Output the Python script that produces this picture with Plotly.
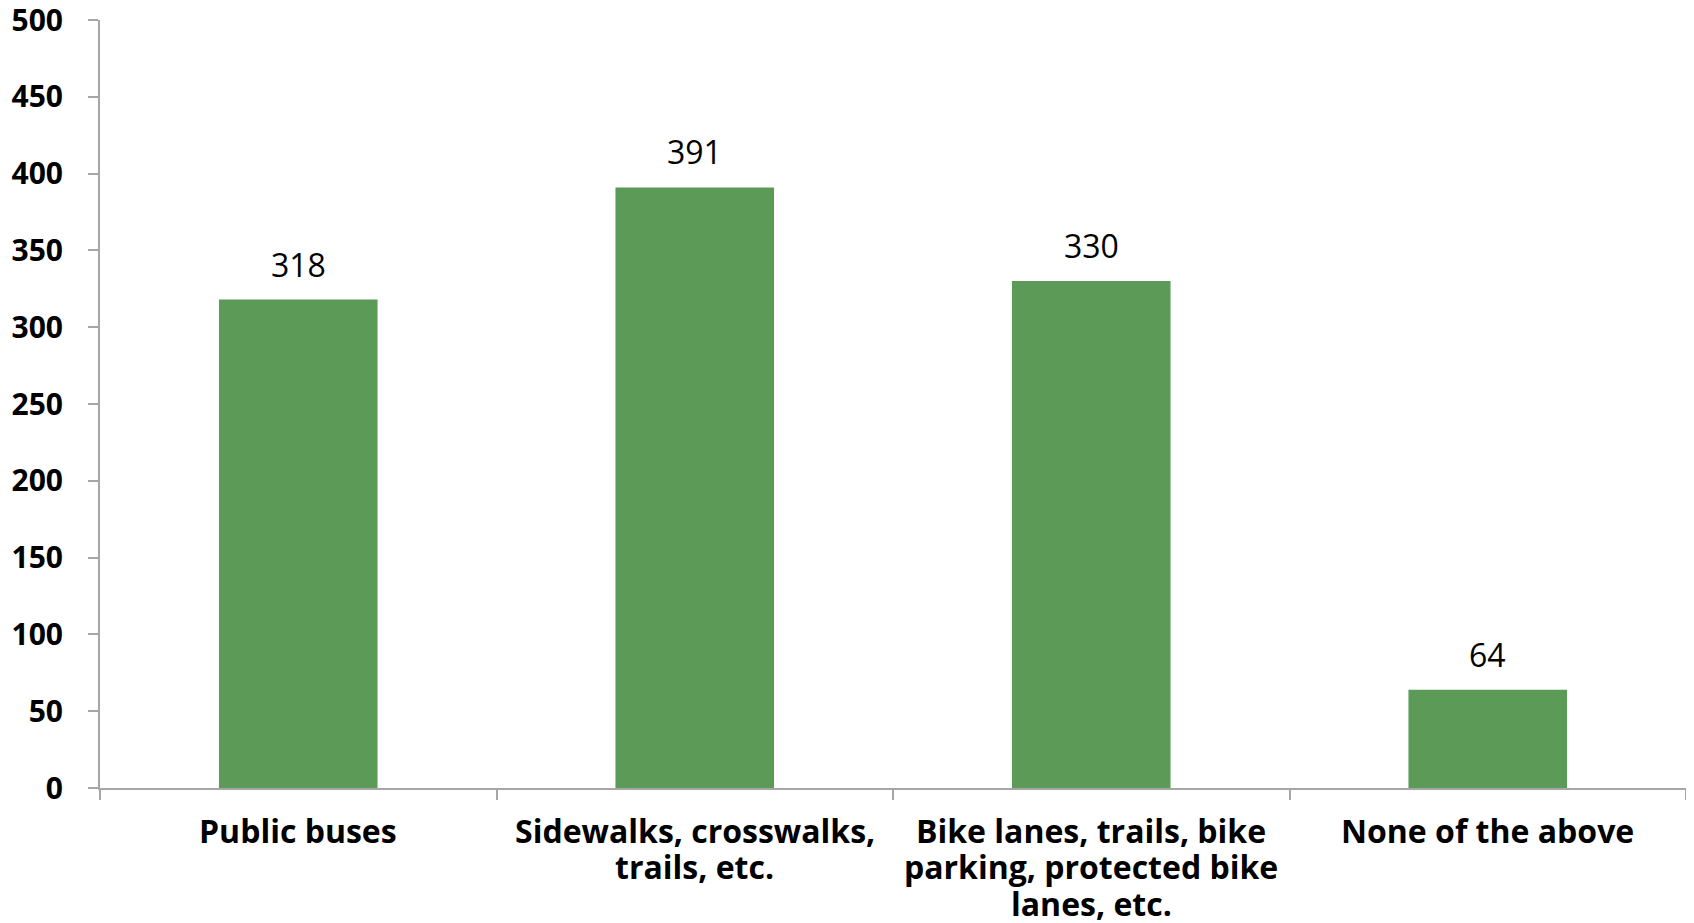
import plotly.graph_objects as go

categories = ["Public buses", "Sidewalks, crosswalks,<br>trails, etc.",
              "Bike lanes, trails, bike<br>parking, protected bike<br>lanes, etc.",
              "None of the above"]
values = [318, 391, 330, 64]
y_ticks = list(range(0, 501, 50))

bar_color = "#5C9A58"
axis_color = "#A6A6A6"
font_family = "Open Sans"

fig = go.Figure(go.Bar(x=categories, y=values, marker=dict(color=bar_color, line=dict(width=0)),
                       width=0.4, hoverinfo="y"))

# value labels above bars
for c, v in zip(categories, values):
    fig.add_annotation(x=c, y=v, text=str(v), showarrow=False, yanchor="bottom",
                       yshift=12, font=dict(family=font_family, size=32, color="black"))

# category labels, one annotation per line (tighter line spacing as in reference)
line_step = 36.6
for c in categories:
    for i, line in enumerate(c.split("<br>")):
        fig.add_annotation(x=c, xref="x", y=0, yref="paper", text="<b>" + line + "</b>",
                           showarrow=False, yanchor="middle", yshift=-42 - i * line_step,
                           borderpad=0,
                           font=dict(family=font_family, size=32, color="black"))

fig.update_layout(
    width=1694, height=923,
    margin=dict(l=92, r=16, t=12, b=143, autoexpand=False),
    plot_bgcolor="white", paper_bgcolor="white",
    showlegend=False,
    font=dict(family=font_family, color="black"),
)
fig.update_xaxes(
    type="category", showline=True, linecolor=axis_color, linewidth=2,
    ticks="outside", tickson="boundaries", ticklen=10, tickwidth=2, tickcolor=axis_color,
    showticklabels=False, automargin=False,
    showgrid=False, range=[-0.5, 3.5],
)
fig.update_yaxes(
    range=[0, 500], tickvals=y_ticks, showline=True, linecolor=axis_color, linewidth=2,
    ticks="outside", ticklen=10, tickwidth=2, tickcolor=axis_color,
    tickfont=dict(family=font_family, size=30, color="black", weight="bold"),
    showgrid=False, zeroline=False, ticklabelstandoff=19, automargin=False,
    ticklabeloverflow="allow",
)

fig.write_html("out.html")
